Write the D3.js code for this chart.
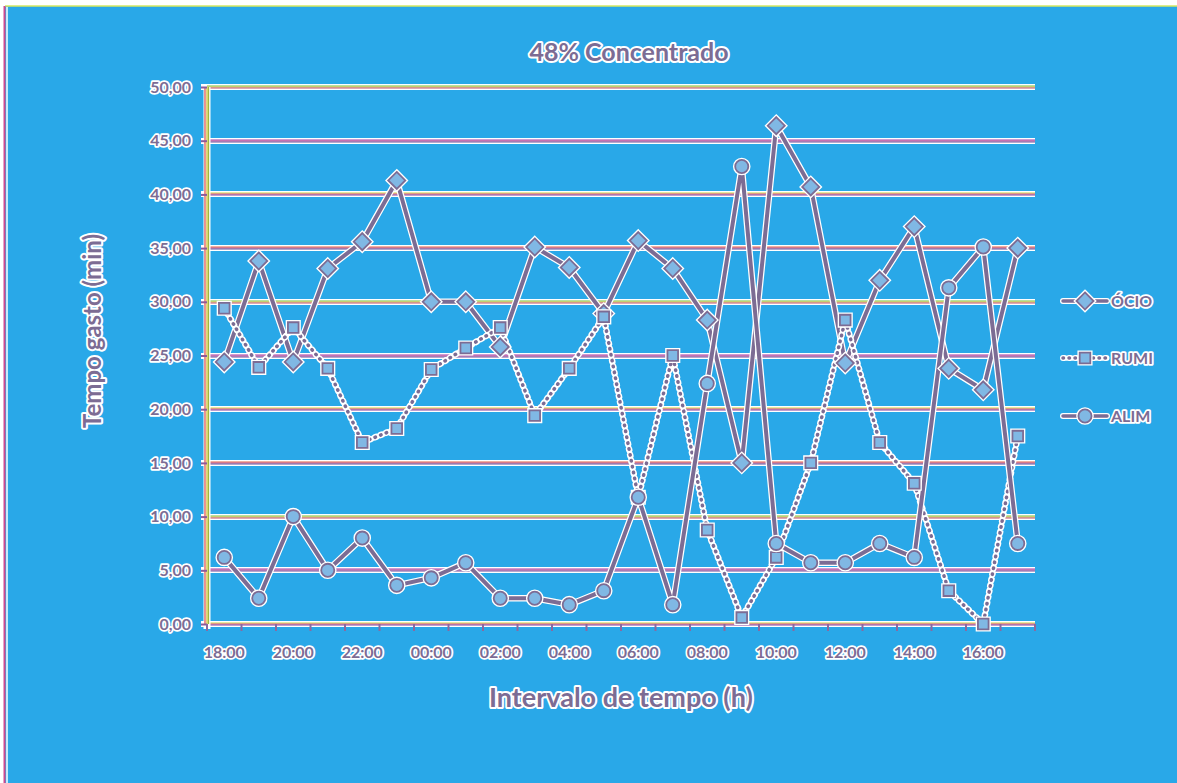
<!DOCTYPE html>
<html>
<head>
<meta charset="utf-8">
<script src="https://cdn.jsdelivr.net/npm/d3@7"></script>
<style>
  html, body { margin: 0; padding: 0; background: #ffffff; }
  svg { display: block; }
  text { font-family: Lato, "Open Sans", sans-serif; paint-order: stroke; stroke: #ffffff; stroke-linejoin: round; }
</style>
</head>
<body>
<svg id="chart" width="1177" height="783"></svg>
<script>
// Hourly time spent per activity, 18:00 through 17:00
const categories = ["18:00","19:00","20:00","21:00","22:00","23:00","00:00","01:00",
  "02:00","03:00","04:00","05:00","06:00","07:00","08:00","09:00","10:00","11:00",
  "12:00","13:00","14:00","15:00","16:00","17:00"];
const tickLabels = ["18:00","20:00","22:00","00:00","02:00","04:00","06:00","08:00",
  "10:00","12:00","14:00","16:00"];
const yTicks = [0, 5, 10, 15, 20, 25, 30, 35, 40, 45, 50];

const ocio = [24.4, 33.8, 24.4, 33.1, 35.6, 41.3, 30.0, 30.0, 25.8, 35.1, 33.2, 28.9,
  35.7, 33.1, 28.3, 15.0, 46.4, 40.7, 24.3, 32.0, 37.0, 23.8, 21.8, 35.0];
const rumi = [29.4, 23.9, 27.6, 23.8, 16.9, 18.2, 23.7, 25.7, 27.6, 19.4, 23.8, 28.6,
  11.8, 25.0, 8.75, 0.6, 6.2, 15.0, 28.3, 16.9, 13.1, 3.1, 0.0, 17.5];
const alim = [6.2, 2.4, 10.0, 5.0, 8.0, 3.6, 4.3, 5.7, 2.4, 2.4, 1.8, 3.1,
  11.8, 1.8, 22.4, 42.6, 7.5, 5.7, 5.7, 7.5, 6.2, 31.3, 35.1, 7.5];

const seriesNames = ["ÓCIO", "RUMI", "ALIM"];
const seriesValues = [ocio, rumi, alim];
const seriesMarkers = ["diamond", "square", "circle"];
const seriesDashed = [false, true, false];

const W = 1177, H = 783;
const plot = { left: 207, right: 1035, top: 87, bottom: 624 };

const ink = "#7c6c94";
const markerFill = "#80b8e4";
const bg = "#29a8e8";

const svg = d3.select("#chart");

// background and frame
svg.append("rect").attr("x", 0).attr("y", 0).attr("width", W).attr("height", H).attr("fill", "#ffffff");
svg.append("rect").attr("x", 5).attr("y", 6).attr("width", W - 5).attr("height", H - 6).attr("fill", bg);
svg.append("line").attr("x1", 5).attr("x2", W).attr("y1", 6).attr("y2", 6)
  .attr("stroke", "#d4e860").attr("stroke-width", 1.5);
svg.append("line").attr("x1", 4.5).attr("x2", 4.5).attr("y1", 6).attr("y2", H)
  .attr("stroke", "#d04a90").attr("stroke-width", 2);
svg.append("line").attr("x1", 7).attr("x2", 7).attr("y1", 7).attr("y2", H)
  .attr("stroke", "#ffffff").attr("stroke-width", 1.5);

const x = d3.scaleBand().domain(categories).range([plot.left, plot.right]).padding(0);
const y = d3.scaleLinear().domain([0, 50]).range([plot.bottom, plot.top]);
const cx = d => x(d) + x.bandwidth() / 2;

// gridlines drawn as striped bands with a white halo
const stripeSets = [
  ["#c8d840", "#d85060", "#8040a0"],
  ["#9a3aa8", "#c04890", "#7050a0"],
  ["#70c040", "#d0c040", "#c05070"],
  ["#e06040", "#c04070", "#6050a0"]
];
const grid = svg.append("g");
yTicks.forEach((t, i) => {
  const yy = Math.round(y(t));
  grid.append("line").attr("x1", plot.left - 6).attr("x2", plot.right)
    .attr("y1", yy).attr("y2", yy).attr("stroke", "#ffffff").attr("stroke-width", 6);
  const set = stripeSets[i % stripeSets.length];
  set.forEach((c, k) => {
    grid.append("line").attr("x1", plot.left).attr("x2", plot.right)
      .attr("y1", yy - 1 + k).attr("y2", yy - 1 + k).attr("stroke", c).attr("stroke-width", 1);
  });
});

// y axis line
svg.append("line").attr("x1", plot.left).attr("x2", plot.left).attr("y1", plot.top).attr("y2", plot.bottom + 5)
  .attr("stroke", "#ffffff").attr("stroke-width", 7);
[["#e05858", -2], ["#d0c838", 0], ["#a0b840", 1.5]].forEach(([c, o]) => {
  svg.append("line").attr("x1", plot.left + o).attr("x2", plot.left + o)
    .attr("y1", plot.top).attr("y2", plot.bottom).attr("stroke", c).attr("stroke-width", 1.3);
});

// axes via d3 for ticks and labels
const yAxis = d3.axisLeft(y).tickValues(yTicks).tickSize(6).tickPadding(10)
  .tickFormat(d => d3.format(".2f")(d).replace(".", ","));
const gy = svg.append("g").attr("transform", `translate(${plot.left},0)`).call(yAxis);
gy.select(".domain").remove();
gy.selectAll(".tick line").attr("stroke", "#8a5a9a").attr("stroke-width", 2);
gy.selectAll(".tick text").attr("fill", ink).attr("stroke-width", 3.5)
  .attr("font-size", 16).attr("font-weight", "bold");

const xAxis = d3.axisBottom(x).tickValues(tickLabels).tickSize(0).tickPadding(23);
const gx = svg.append("g").attr("transform", `translate(0,${plot.bottom})`).call(xAxis);
gx.select(".domain").remove();
gx.selectAll(".tick text").attr("fill", ink).attr("stroke-width", 3.5)
  .attr("font-size", 16).attr("font-weight", "bold");

// bottom axis boundary ticks between categories
const boundaries = categories.map(c => x(c)).concat([plot.right]);
svg.append("g").selectAll("line").data(boundaries).join("line")
  .attr("x1", d => d).attr("x2", d => d).attr("y1", plot.bottom).attr("y2", plot.bottom + 7)
  .attr("stroke", "#8a6aa0").attr("stroke-width", 2);

// series lines
const line = d3.line().x((d, i) => cx(categories[i])).y(d => y(d));
const seriesG = svg.append("g");
seriesValues.forEach((vals, si) => {
  const dashed = seriesDashed[si];
  seriesG.append("path").datum(vals).attr("d", line).attr("fill", "none")
    .attr("stroke", "#ffffff").attr("stroke-width", 6.5).attr("stroke-linejoin", "round")
    .attr("stroke-linecap", "round")
    .attr("stroke-dasharray", dashed ? "1.5 4.5" : null);
  seriesG.append("path").datum(vals).attr("d", line).attr("fill", "none")
    .attr("stroke", ink).attr("stroke-width", dashed ? 3.5 : 4).attr("stroke-linejoin", "round")
    .attr("stroke-linecap", "round")
    .attr("stroke-dasharray", dashed ? "0.5 5.5" : null);
});

// markers
function markerPath(kind, s) {
  if (kind === "diamond") return d3.symbol(d3.symbolDiamond2, s * s * 1.1)();
  if (kind === "square") return d3.symbol(d3.symbolSquare2, s * s * 1.0)();
  return d3.symbol(d3.symbolCircle, s * s * 0.8)();
}
function drawMarker(g, kind, px, py) {
  const size = kind === "square" ? 12 : 13;
  g.append("path").attr("d", markerPath(kind, size))
    .attr("transform", `translate(${px},${py})`)
    .attr("fill", markerFill).attr("stroke", "#ffffff").attr("stroke-width", 4.5);
  g.append("path").attr("d", markerPath(kind, size))
    .attr("transform", `translate(${px},${py})`)
    .attr("fill", markerFill).attr("stroke", ink).attr("stroke-width", 1.8);
}
seriesValues.forEach((vals, si) => {
  const g = svg.append("g");
  vals.forEach((v, i) => drawMarker(g, seriesMarkers[si], cx(categories[i]), y(v)));
});

// legend
const legendY = [301, 358, 416];
seriesNames.forEach((name, si) => {
  const g = svg.append("g");
  const ly = legendY[si];
  const dashed = seriesDashed[si];
  g.append("line").attr("x1", 1063).attr("x2", 1107).attr("y1", ly).attr("y2", ly)
    .attr("stroke", "#ffffff").attr("stroke-width", 6).attr("stroke-linecap", "round")
    .attr("stroke-dasharray", dashed ? "1.5 4.5" : null);
  g.append("line").attr("x1", 1063).attr("x2", 1107).attr("y1", ly).attr("y2", ly)
    .attr("stroke", ink).attr("stroke-width", 3.5).attr("stroke-linecap", "round")
    .attr("stroke-dasharray", dashed ? "0.5 5.5" : null);
  drawMarker(g, seriesMarkers[si], 1085, ly);
  g.append("text").attr("x", 1111).attr("y", ly + 6).text(name)
    .attr("fill", ink).attr("stroke-width", 3.5).attr("font-size", 16).attr("font-weight", "bold");
});

// titles
svg.append("text").attr("x", 629).attr("y", 61).attr("text-anchor", "middle")
  .text("48% Concentrado").attr("fill", ink).attr("stroke-width", 4)
  .attr("font-size", 25).attr("font-weight", "bold");
svg.append("text").attr("x", 621).attr("y", 707).attr("text-anchor", "middle")
  .text("Intervalo de tempo (h)").attr("fill", ink).attr("stroke-width", 4)
  .attr("font-size", 27).attr("font-weight", "bold");
svg.append("text").attr("transform", "translate(101,331) rotate(-90)").attr("text-anchor", "middle")
  .text("Tempo gasto (min)").attr("fill", ink).attr("stroke-width", 4)
  .attr("font-size", 24).attr("font-weight", "bold");
</script>
</body>
</html>
